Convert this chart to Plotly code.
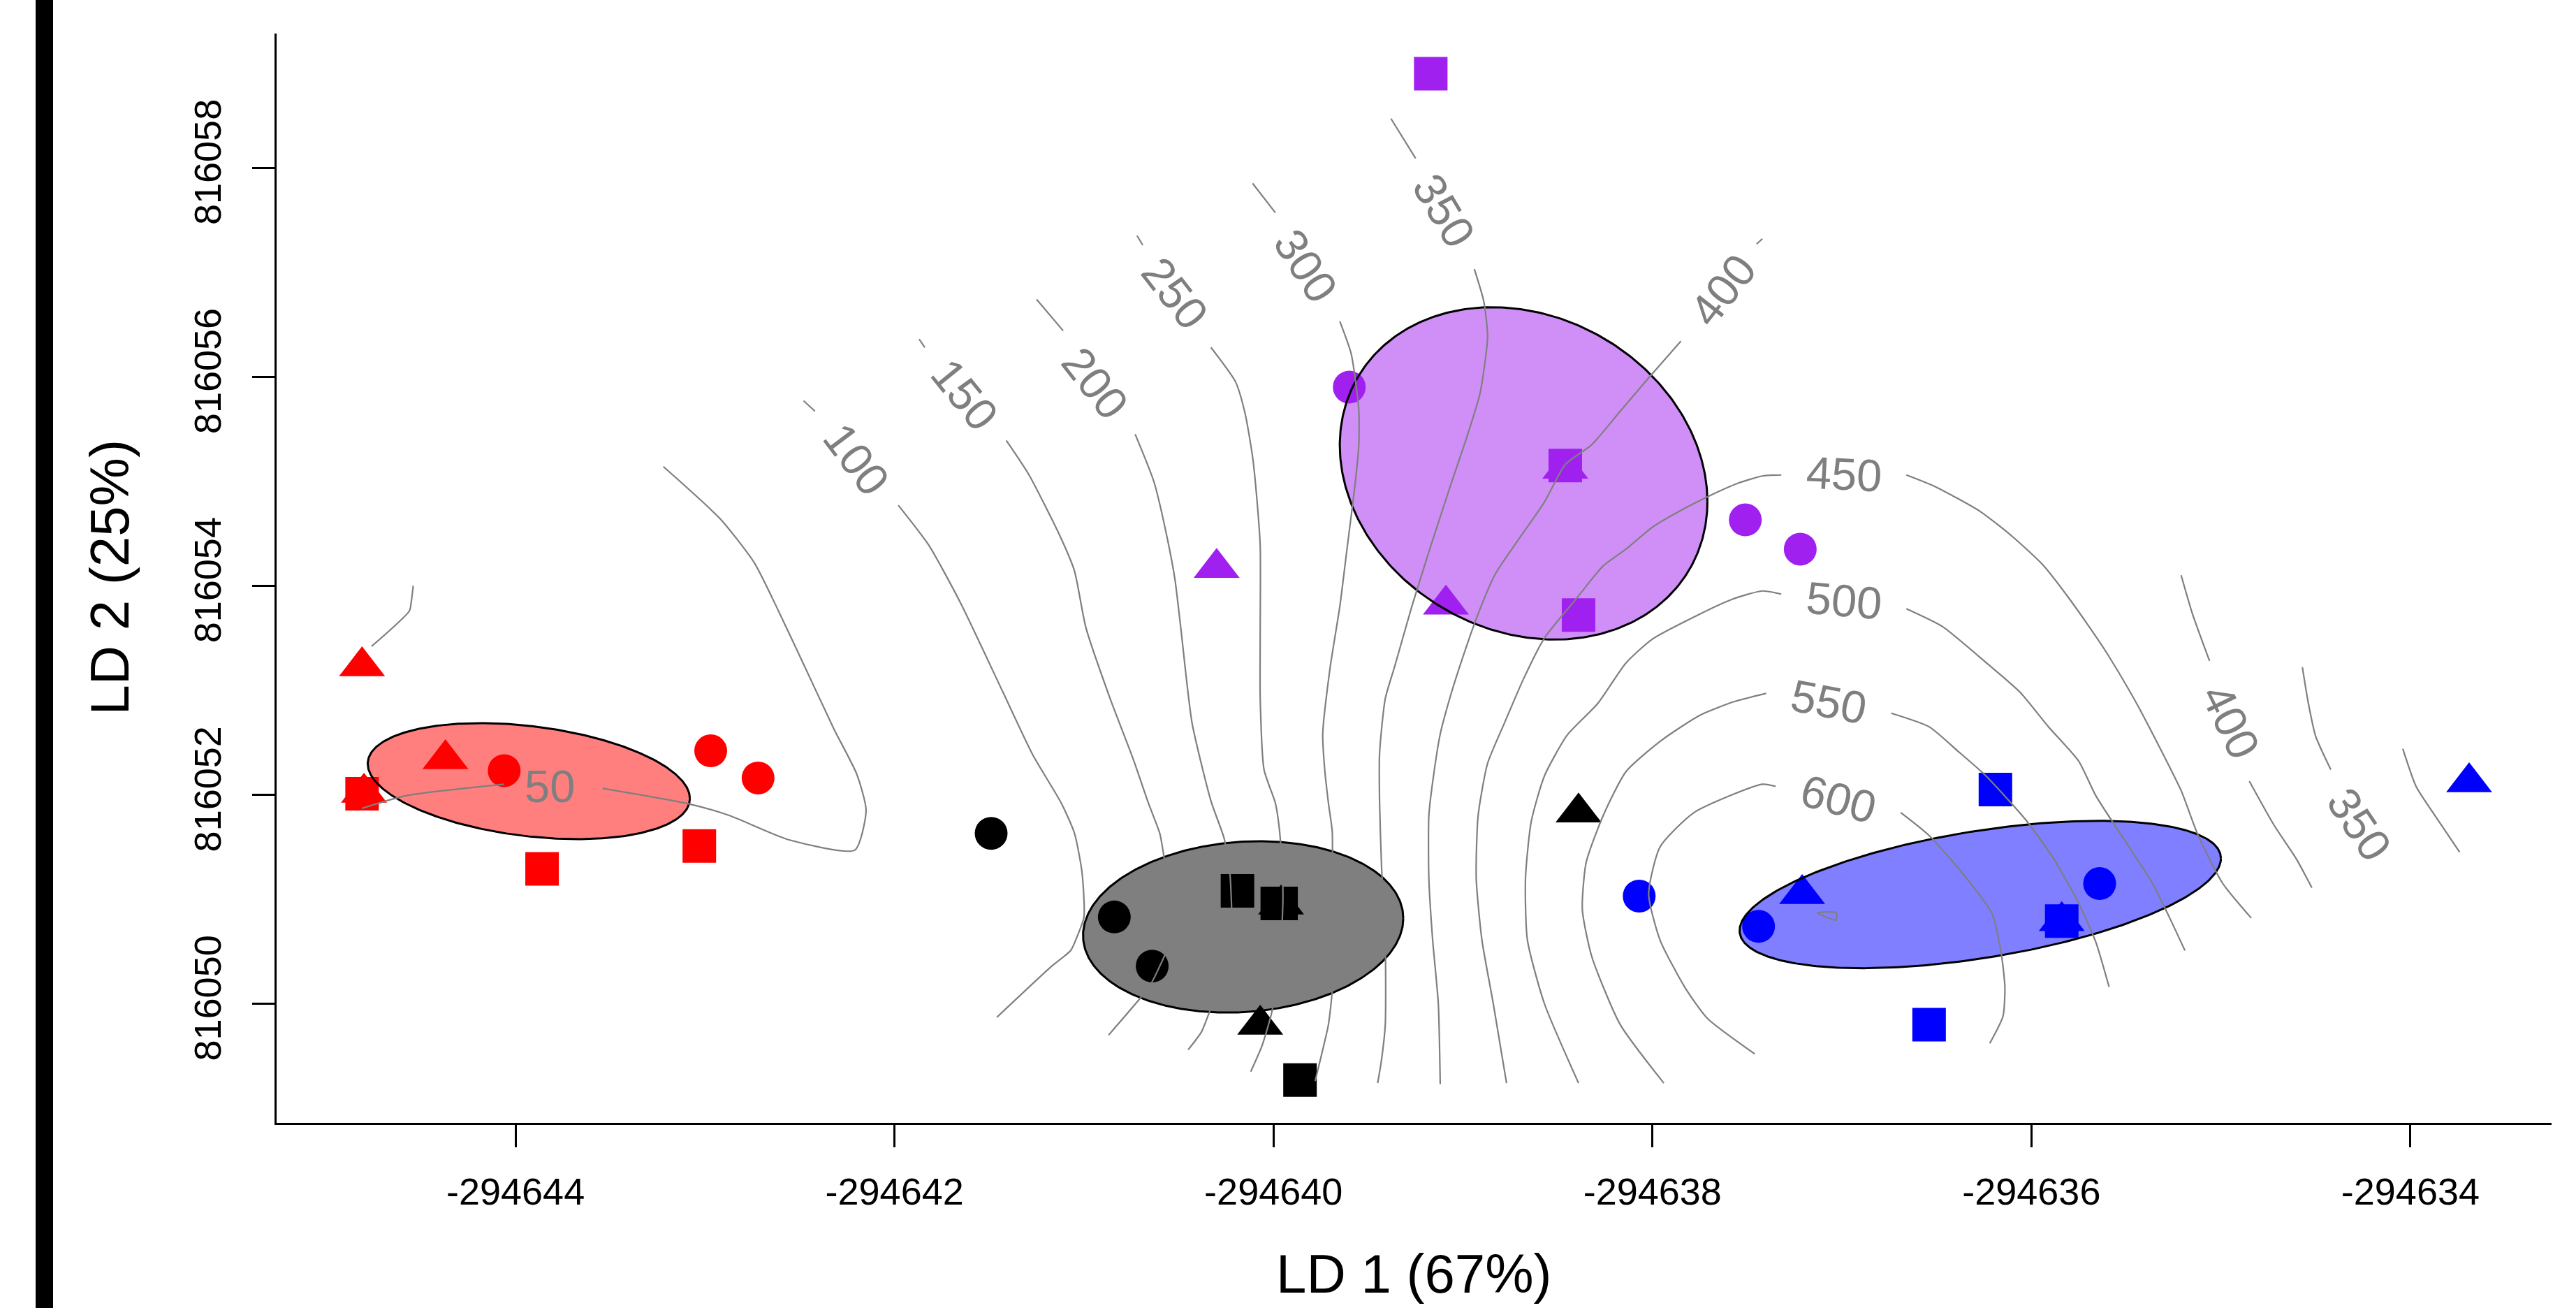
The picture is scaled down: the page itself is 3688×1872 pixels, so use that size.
import numpy as np
import plotly.graph_objects as go

# ---------------- axis ticks ----------------
x_ticks = [-294644, -294642, -294640, -294638, -294636, -294634]
x_ticklabels = ["-294644", "-294642", "-294640", "-294638", "-294636", "-294634"]
y_ticks = [816050, 816052, 816054, 816056, 816058]
y_ticklabels = ["816050", "816052", "816054", "816056", "816058"]
x_range = [-294645.261, -294633.255]
y_range = [816048.860, 816059.284]
x_title = "LD 1 (67%)"
y_title = "LD 2 (25%)"

# ---------------- points (LD1, LD2, symbol) ----------------
red_x = [-294644.81, -294644.37, -294644.06, -294644.81, -294644.80, -294642.97, -294642.72, -294643.86, -294643.03]
red_y = [816053.23, 816052.34, 816052.23, 816052.01, 816052.02, 816052.42, 816052.16, 816051.29, 816051.51]
red_sym = ["triangle-up", "triangle-up", "circle", "square", "triangle-up", "circle", "circle", "square", "square"]

black_x = [-294641.49, -294640.84, -294640.64, -294640.19, -294639.98, -294639.96, -294639.96, -294640.07, -294639.86, -294638.39]
black_y = [816051.63, 816050.83, 816050.36, 816051.08, 816050.96, 816050.96, 816050.95, 816049.80, 816049.27, 816051.83]
black_sym = ["circle", "circle", "circle", "square", "square", "square", "triangle-up", "triangle-up", "square", "triangle-up"]

purple_x = [-294639.17, -294639.60, -294638.46, -294638.46, -294640.30, -294639.09, -294638.39, -294637.51, -294637.22]
purple_y = [816058.90, 816055.90, 816055.15, 816055.12, 816054.17, 816053.82, 816053.72, 816054.63, 816054.35]
purple_sym = ["square", "circle", "square", "triangle-up", "triangle-up", "triangle-up", "square", "circle", "circle"]

blue_x = [-294636.19, -294637.21, -294637.44, -294635.84, -294635.84, -294635.64, -294636.54, -294633.69, -294638.07]
blue_y = [816052.05, 816051.05, 816050.74, 816050.79, 816050.79, 816051.15, 816049.80, 816052.12, 816051.03]
blue_sym = ["square", "triangle-up", "circle", "square", "triangle-up", "circle", "square", "triangle-up", "circle"]

# ---------------- group ellipses: centre, x half-extent, y half-extent, tilt k ----------------
ell_groups = ["red", "black", "purple", "blue"]
ell_cx = [-294643.93, -294640.16, -294638.68, -294636.27]
ell_cy = [816052.13, 816050.735, 816055.075, 816051.045]
ell_ax = [0.85, 0.845, 0.97, 1.27]
ell_by = [0.555, 0.82, 1.59, 0.705]
ell_k = [-0.30, 0.10, -0.17, 0.49]

# ---------------- contour lines (None = break) ----------------
c50_x = [-294643.22, -294642.92, -294642.74, -294642.61, -294642.48, -294642.32, -294642.20, -294642.15, -294642.21,
         -294642.56, -294642.87, -294643.08, -294643.54, None, -294644.06, -294644.58, -294644.81, None,
         -294644.54, -294644.55, -294644.56, -294644.76]
c50_y = [816055.14, 816054.64, 816054.22, 816053.75, 816053.25, 816052.63, 816052.20, 816051.85, 816051.47,
         816051.57, 816051.80, 816051.91, 816052.06, None, 816052.10, 816051.99, 816051.87, None,
         816054.00, 816053.85, 816053.76, 816053.42]
c100_x = [-294642.48, -294642.42, None, -294641.98, -294641.82, -294641.65, -294641.43, -294641.27, -294641.12,
          -294641.05, -294641.01, -294641.00, -294641.03, -294641.07, -294641.17, -294641.46]
c100_y = [816055.77, 816055.67, None, 816054.77, 816054.39, 816053.83, 816052.99, 816052.38, 816051.92,
          816051.63, 816051.25, 816050.83, 816050.67, 816050.51, 816050.36, 816049.87]
c150_x = [-294641.87, -294641.84, None, -294641.41, -294641.29, -294641.12, -294641.05, -294640.99, -294640.86,
          -294640.74, -294640.66, -294640.60, -294640.58, -294640.55, -294640.55, -294640.60, -294640.65,
          -294640.70, -294640.87]
c150_y = [816056.36, 816056.28, None, 816055.39, 816055.06, 816054.45, 816054.14, 816053.60, 816052.91,
          816052.34, 816051.92, 816051.63, 816051.43, 816051.03, 816050.58, 816050.36, 816050.18,
          816050.06, 816049.70]
c200_x = [-294641.25, -294641.11, None, -294640.73, -294640.63, -294640.56, -294640.52, -294640.49, -294640.43,
          -294640.33, -294640.26, -294640.23, -294640.22, -294640.23, -294640.28, -294640.34, -294640.38, -294640.45]
c200_y = [816056.74, 816056.44, None, 816055.45, 816054.99, 816054.45, 816054.06, 816053.61, 816052.69,
          816051.94, 816051.58, 816051.25, 816050.80, 816050.46, 816050.18, 816049.91, 816049.73, 816049.56]
c250_x = [-294640.72, -294640.69, None, -294640.33, -294640.20, -294640.15, -294640.11, -294640.09, -294640.07,
          -294640.07, -294640.07, -294640.05, -294639.99, -294639.97, -294639.96, -294639.95, -294639.96,
          -294639.99, -294640.01, -294640.06, -294640.12]
c250_y = [816057.35, 816057.26, None, 816056.28, 816055.95, 816055.65, 816055.23, 816054.88, 816054.38,
          816053.59, 816052.92, 816052.24, 816051.92, 816051.69, 816051.47, 816051.03, 816050.58,
          816050.13, 816049.91, 816049.60, 816049.35]
c300_x = [-294640.11, -294639.99, None, -294639.65, -294639.59, -294639.55, -294639.55, -294639.57, -294639.61,
          -294639.65, -294639.70, -294639.74, -294639.73, -294639.71, -294639.69, -294639.69, -294639.69,
          -294639.71, -294639.74, -294639.78, None, -294634.04, -294633.97, -294633.87, -294633.74]
c300_y = [816057.85, 816057.57, None, 816056.53, 816056.22, 816055.69, 816055.34, 816054.96, 816054.38,
          816053.80, 816053.23, 816052.58, 816052.25, 816051.92, 816051.65, 816051.03, 816050.13,
          816049.80, 816049.56, 816049.26, None, 816052.44, 816052.08, 816051.80, 816051.45]
c350_x = [-294639.38, -294639.25, None, -294638.94, -294638.89, -294638.87, -294638.91, -294638.98, -294639.06,
          -294639.17, -294639.27, -294639.36, -294639.41, -294639.44, -294639.44, -294639.43, -294639.41,
          -294639.41, -294639.43, -294639.45, None, -294634.57, -294634.54, -294634.50, -294634.42]
c350_y = [816058.47, 816058.09, None, 816057.03, 816056.72, 816056.38, 816055.84, 816055.42, 816054.99,
          816054.38, 816053.80, 816053.23, 816052.92, 816052.40, 816051.92, 816051.33, 816050.58,
          816049.80, 816049.46, 816049.24, None, 816053.22, 816052.89, 816052.56, 816052.24]
c400_x = [-294637.45, -294637.42, None, -294637.85, -294638.01, -294638.17, -294638.32, -294638.46, -294638.57,
          -294638.70, -294638.83, -294638.92, -294639.00, -294639.07, -294639.12, -294639.16, -294639.18,
          -294639.18, -294639.16, -294639.13, -294639.12, None, -294635.21, -294635.15, -294635.06, None,
          -294634.85, -294634.72, -294634.60, -294634.52]
c400_y = [816057.27, 816057.32, None, 816056.34, 816056.01, 816055.67, 816055.35, 816055.16, 816054.80,
          816054.46, 816054.11, 816053.73, 816053.32, 816052.92, 816052.58, 816052.12, 816051.80,
          816051.20, 816050.61, 816050.00, 816049.23, None, 816054.10, 816053.73, 816053.28, None,
          816052.13, 816051.71, 816051.38, 816051.11]
c450_x = [-294637.32, -294637.42, -294637.55, -294637.70, -294637.83, -294638.00, -294638.14, -294638.26,
          -294638.40, -294638.57, -294638.68, -294638.78, -294638.87, -294638.92, -294638.93, -294638.90,
          -294638.84, -294638.77, None, -294636.66, -294636.51, -294636.27, -294636.10, -294635.94,
          -294635.81, -294635.70, -294635.60, -294635.45, -294635.30, -294635.21, -294635.12, -294634.99,
          -294634.84]
c450_y = [816055.06, 816055.05, 816054.98, 816054.86, 816054.74, 816054.56, 816054.35, 816054.19,
          816053.88, 816053.50, 816053.11, 816052.69, 816052.30, 816051.80, 816051.20, 816050.61,
          816050.00, 816049.24, None, 816055.06, 816054.95, 816054.71, 816054.47, 816054.20,
          816053.90, 816053.62, 816053.35, 816052.89, 816052.37, 816052.04, 816051.61, 816051.15,
          816050.82]
c500_x = [-294637.32, -294637.42, -294637.58, -294637.76, -294638.00, -294638.14, -294638.29, -294638.45,
          -294638.57, -294638.64, -294638.67, -294638.66, -294638.57, -294638.39, None, -294636.66,
          -294636.47, -294636.23, -294636.06, -294635.91, -294635.75, -294635.66, -294635.51, -294635.36,
          -294635.27, -294635.19]
c500_y = [816053.92, 816053.95, 816053.87, 816053.72, 816053.49, 816053.26, 816052.87, 816052.57,
          816052.18, 816051.74, 816051.20, 816050.61, 816050.00, 816049.24, None, 816053.78,
          816053.61, 816053.25, 816052.98, 816052.65, 816052.32, 816051.99, 816051.57, 816051.15,
          816050.82, 816050.51]
c550_x = [-294637.40, -294637.57, -294637.75, -294637.96, -294638.14, -294638.26, -294638.35, -294638.37,
          -294638.32, -294638.17, -294637.94, None, -294636.74, -294636.54, -294636.39, -294636.24,
          -294636.03, -294635.88, -294635.75, -294635.66, -294635.59]
c550_y = [816052.97, 816052.89, 816052.76, 816052.51, 816052.22, 816051.80, 816051.35, 816050.90,
          816050.45, 816049.80, 816049.24, None, 816052.78, 816052.65, 816052.42, 816052.18,
          816051.76, 816051.38, 816050.96, 816050.59, 816050.16]
c600_x = [-294637.35, -294637.42, -294637.78, -294637.96, -294638.02, -294637.96, -294637.83, -294637.71,
          -294637.46, None, -294636.69, -294636.54, -294636.36, -294636.21, -294636.16, -294636.14,
          -294636.15, -294636.22]
c600_y = [816052.08, 816052.10, 816051.83, 816051.50, 816051.05, 816050.61, 816050.16, 816049.86,
          816049.52, None, 816051.83, 816051.61, 816051.24, 816050.87, 816050.49, 816050.16,
          816049.88, 816049.62]
c650_x = [-294637.13, -294637.03, -294637.03, -294637.13]
c650_y = [816050.87, 816050.87, 816050.80, 816050.87]

# ---------------- contour labels ----------------
label_text = ["50", "100", "150", "200", "250", "300", "350", "400", "450", "500", "550", "600", "400", "350"]
label_x = [-294643.82, -294642.20, -294641.63, -294640.94, -294640.52, -294639.83, -294639.10, -294637.63,
           -294636.99, -294636.99, -294637.07, -294637.02, -294634.95, -294634.27]
label_y = [816052.08, 816055.21, 816055.83, 816055.94, 816056.80, 816057.06, 816057.59, 816056.83,
           816055.07, 816053.86, 816052.89, 816051.96, 816052.70, 816051.72]
label_angle = [0, 53, 51, 52, 52, 57, 59, -52, 3, 5, 11, 15, 64, 56]

# ---------------- styles ----------------
FONT = "Liberation Sans, Arial, sans-serif"
colors = {"red": "#FF0000", "black": "#000000", "purple": "#A020F0", "blue": "#0000FF"}
fills = {"red": "rgba(255,0,0,0.5)", "black": "rgba(0,0,0,0.5)",
         "purple": "rgba(160,32,240,0.5)", "blue": "rgba(0,0,255,0.5)"}
sym_size = {"circle": 47, "square": 48, "triangle-up": 57}
CONTOUR_COLOR = "#7F7F7F"

fig = go.Figure()

# points
for name, xs, ys, ss in [("red", red_x, red_y, red_sym), ("black", black_x, black_y, black_sym),
                         ("purple", purple_x, purple_y, purple_sym), ("blue", blue_x, blue_y, blue_sym)]:
    fig.add_trace(go.Scatter(
        x=xs, y=ys, mode="markers", hoverinfo="skip",
        marker=dict(symbol=ss, size=[sym_size[s] for s in ss], color=colors[name],
                    opacity=1, line=dict(width=0)),
    ))

# ellipses
t = np.linspace(0, 2 * np.pi, 361)
for g, cx, cy, a, b, k in zip(ell_groups, ell_cx, ell_cy, ell_ax, ell_by, ell_k):
    d = np.arccos(k)
    ex = cx + a * np.cos(t)
    ey = cy + b * np.cos(t - d)
    fig.add_trace(go.Scatter(
        x=ex, y=ey, mode="lines", fill="toself", fillcolor=fills[g],
        line=dict(color="black", width=3), hoverinfo="skip",
    ))

# contours
for cx_, cy_ in [(c50_x, c50_y), (c100_x, c100_y), (c150_x, c150_y), (c200_x, c200_y), (c250_x, c250_y),
                 (c300_x, c300_y), (c350_x, c350_y), (c400_x, c400_y), (c450_x, c450_y), (c500_x, c500_y),
                 (c550_x, c550_y), (c600_x, c600_y), (c650_x, c650_y)]:
    fig.add_trace(go.Scatter(
        x=cx_, y=cy_, mode="lines", connectgaps=False, hoverinfo="skip",
        line=dict(color=CONTOUR_COLOR, width=2.2, shape="spline", smoothing=0.6),
    ))

annotations = []
for txt, lx, ly, ang in zip(label_text, label_x, label_y, label_angle):
    annotations.append(dict(
        x=lx, y=ly, xref="x", yref="y", text=txt, showarrow=False, textangle=ang,
        font=dict(family=FONT, size=65, color=CONTOUR_COLOR), xanchor="center", yanchor="middle",
    ))

# axis titles
annotations.append(dict(x=0.5, y=-0.1385, xref="paper", yref="paper", text=x_title, showarrow=False,
                        font=dict(family=FONT, size=78, color="black"), xanchor="center", yanchor="middle"))
annotations.append(dict(x=-0.0735, y=0.501, xref="paper", yref="paper", text=y_title, showarrow=False,
                        textangle=-90, font=dict(family=FONT, size=78, color="black"),
                        xanchor="center", yanchor="middle"))

W, H = 3688, 1872
ML, MR, MT, MB = 396, 35, 48, 265

fig.update_layout(
    width=W, height=H,
    margin=dict(l=ML, r=MR, t=MT, b=MB, pad=0, autoexpand=False),
    plot_bgcolor="white", paper_bgcolor="white",
    showlegend=False,
    annotations=annotations,
    shapes=[dict(type="rect", xref="paper", yref="paper",
                 x0=(51 - ML) / (W - ML - MR), x1=(76 - ML) / (W - ML - MR),
                 y0=-0.2, y1=1.05, fillcolor="black", line=dict(width=0), layer="above")],
    xaxis=dict(range=x_range, tickmode="array", tickvals=x_ticks, ticktext=x_ticklabels,
               ticks="outside", ticklen=32, tickwidth=2.5, tickcolor="black",
               showline=True, linewidth=2.5, linecolor="black",
               showgrid=False, zeroline=False, ticklabelstandoff=17,
               tickfont=dict(family=FONT, size=54, color="black")),
    yaxis=dict(range=y_range, tickmode="array", tickvals=y_ticks, ticktext=y_ticklabels,
               ticks="outside", ticklen=32, tickwidth=2.5, tickcolor="black",
               showline=True, linewidth=2.5, linecolor="black", tickangle=-90,
               showgrid=False, zeroline=False, ticklabelstandoff=24,
               tickfont=dict(family=FONT, size=54, color="black")),
)

fig.write_html("out.html", config={"displayModeBar": False},
               post_script="document.body.style.margin='0';document.body.style.overflow='hidden';")
